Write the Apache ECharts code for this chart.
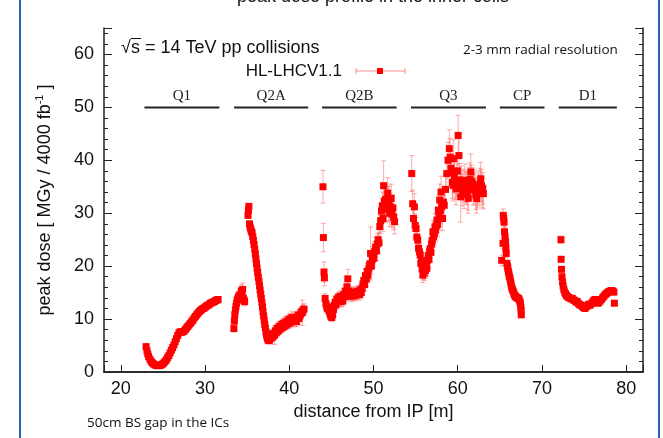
<!DOCTYPE html>
<html>
<head>
<meta charset="utf-8">
<script src="https://cdn.jsdelivr.net/npm/echarts@6/dist/echarts.min.js"></script>
<style>
  html, body { margin: 0; padding: 0; background: #fff; }
  #chart { width: 663px; height: 438px; }
</style>
</head>
<body>
<div id="chart"></div>
<script>
// peak dose along the inner triplet coils
const q1Dist = [23.0, 23.1, 23.2, 23.3, 23.45, 23.6, 23.75, 23.9, 24.05, 24.2, 24.35, 24.5, 24.65, 24.8, 24.95, 25.1, 25.25, 25.4, 25.55, 25.7, 25.85, 26.0, 26.15, 26.3, 26.45, 26.6, 26.75, 26.9, 27.05, 27.2, 27.35, 27.5, 27.65, 27.8, 27.95, 28.1, 28.25, 28.4, 28.55, 28.7, 28.85, 29.0, 29.15, 29.3, 29.45, 29.6, 29.75, 29.9, 30.05, 30.2, 30.35, 30.5, 30.65, 30.8, 30.95, 31.1, 31.25, 31.4, 31.55]
const q1Dose = [4.8, 4.0, 3.4, 2.9, 2.4, 2.0, 1.7, 1.5, 1.35, 1.25, 1.2, 1.2, 1.25, 1.35, 1.5, 1.7, 2.0, 2.3, 2.7, 3.1, 3.6, 4.1, 4.6, 5.1, 5.7, 6.3, 6.9, 7.4, 7.6, 7.5, 7.6, 7.7, 8.0, 8.3, 8.6, 8.9, 9.2, 9.5, 9.8, 10.2, 10.5, 10.8, 11.1, 11.4, 11.6, 11.8, 12.0, 12.1, 12.3, 12.5, 12.6, 12.8, 13.0, 13.1, 13.2, 13.3, 13.5, 13.6, 13.7]
const q1Err = [0.3, 0.2, 0.2, 0.2, 0.2, 0.2, 0.2, 0.2, 0.2, 0.2, 0.2, 0.2, 0.2, 0.2, 0.2, 0.2, 0.2, 0.2, 0.2, 0.2, 0.2, 0.2, 0.2, 0.3, 0.3, 0.3, 0.4, 0.5, 0.5, 0.5, 0.4, 0.3, 0.3, 0.3, 0.3, 0.3, 0.3, 0.3, 0.3, 0.3, 0.3, 0.3, 0.3, 0.3, 0.3, 0.3, 0.3, 0.3, 0.3, 0.3, 0.3, 0.3, 0.3, 0.3, 0.3, 0.3, 0.3, 0.3, 0.3]

const q2aDist = [33.42, 33.48, 33.53, 33.6, 33.67, 33.74, 33.82, 33.9, 33.98, 34.06, 34.14, 34.22, 34.3, 34.38, 34.46, 34.54, 34.62, 34.7, 35.1, 35.15, 35.2, 35.28, 35.35, 35.42, 35.5, 35.58, 35.66, 35.74, 35.82, 35.9, 35.97, 36.04, 36.11, 36.18, 36.25, 36.32, 36.4, 36.47, 36.54, 36.61, 36.68, 36.75, 36.82, 36.88, 36.95, 37.02, 37.09, 37.16, 37.23, 37.3, 37.38, 37.46, 37.55, 37.65, 37.75, 37.85, 37.95, 38.05, 38.15, 38.25, 38.35, 38.45, 38.55, 38.65, 38.75, 38.85, 38.95, 39.05, 39.15, 39.25, 39.35, 39.45, 39.55, 39.65, 39.75, 39.85, 39.95, 40.05, 40.15, 40.25, 40.35, 40.45, 40.55, 40.65, 40.75, 40.85, 40.95, 41.05, 41.15, 41.25, 41.35, 41.45, 41.55, 41.65, 41.75]
const q2aDose = [8.2, 9.6, 10.8, 11.7, 12.4, 13.0, 13.6, 13.9, 14.3, 13.8, 14.6, 14.2, 15.3, 14.6, 15.6, 14.0, 13.6, 13.3, 29.6, 30.6, 31.3, 28.0, 27.4, 27.0, 26.6, 26.3, 25.6, 24.9, 24.1, 23.2, 22.3, 21.4, 20.5, 19.6, 18.8, 17.9, 17.1, 16.3, 15.5, 14.7, 13.9, 13.1, 12.3, 11.4, 10.6, 9.8, 9.0, 8.3, 7.6, 7.0, 6.5, 6.1, 5.9, 6.0, 6.4, 6.9, 6.5, 7.3, 6.8, 7.0, 7.8, 7.4, 8.2, 7.7, 8.5, 8.0, 8.7, 8.3, 9.0, 8.5, 9.2, 8.7, 9.4, 8.9, 9.6, 9.1, 9.9, 9.3, 10.1, 9.5, 10.3, 9.7, 10.2, 9.6, 10.0, 9.5, 10.3, 10.8, 10.1, 10.6, 10.9, 11.4, 11.2, 11.7, 11.9]
const q2aErr = [0.6, 0.6, 0.6, 0.7, 0.7, 0.7, 0.8, 0.8, 0.9, 0.9, 1.0, 1.0, 1.2, 1.0, 1.2, 1.0, 0.9, 0.8, 0.5, 0.5, 0.5, 0.5, 0.5, 0.5, 0.5, 0.5, 0.4, 0.4, 0.4, 0.4, 0.4, 0.4, 0.4, 0.4, 0.4, 0.4, 0.4, 0.4, 0.4, 0.4, 0.4, 0.4, 0.4, 0.4, 0.4, 0.4, 0.4, 0.4, 0.4, 0.4, 0.4, 0.5, 0.5, 0.5, 0.6, 0.7, 0.7, 0.8, 0.9, 1.8, 0.9, 0.9, 1.0, 0.9, 1.0, 0.9, 1.0, 0.9, 1.0, 0.9, 1.0, 0.9, 1.1, 0.9, 1.0, 0.9, 1.1, 1.0, 1.0, 1.0, 1.2, 1.0, 1.0, 1.0, 1.0, 1.0, 1.0, 1.0, 1.0, 1.0, 1.0, 1.0, 2.4, 1.0, 1.0]

const q2bDist = [44.0, 44.05, 44.12, 44.17, 44.25, 44.35, 44.45, 44.55, 44.65, 44.75, 44.85, 44.95, 45.05, 45.15, 45.25, 45.35, 45.45, 45.55, 45.65, 45.75, 45.85, 45.95, 46.05, 46.15, 46.25, 46.35, 46.45, 46.55, 46.65, 46.75, 46.85, 46.95, 47.05, 47.15, 47.25, 47.35, 47.45, 47.55, 47.65, 47.75, 47.85, 47.95, 48.05, 48.15, 48.25, 48.35, 48.45, 48.55, 48.65, 48.75, 48.85, 48.95, 49.05, 49.15, 49.25, 49.35, 49.45, 49.55, 49.65, 49.75, 49.85, 49.95, 50.05, 50.15, 50.25, 50.35, 50.45, 50.55, 50.65, 50.75, 50.85, 50.95, 51.05, 51.12, 51.2, 51.28, 51.36, 51.44, 51.52, 51.6, 51.68, 51.76, 51.84, 51.92, 52.0, 52.1, 52.2, 52.3, 52.4, 52.5]
const q2bDose = [35.0, 25.4, 18.9, 17.8, 13.9, 12.9, 12.3, 11.9, 12.3, 11.4, 10.9, 10.5, 10.3, 10.8, 11.8, 12.6, 13.2, 12.7, 13.8, 13.3, 14.1, 13.6, 14.3, 13.3, 14.0, 13.4, 14.6, 14.2, 15.3, 14.6, 16.1, 17.6, 15.3, 14.7, 14.3, 14.9, 14.5, 15.1, 14.7, 14.4, 15.0, 14.6, 15.2, 14.8, 15.3, 14.6, 15.5, 15.0, 15.8, 16.6, 17.3, 16.5, 18.2, 17.6, 19.0, 18.3, 19.6, 20.4, 22.4, 20.0, 21.2, 22.0, 21.5, 22.8, 23.6, 22.9, 24.2, 25.0, 24.4, 27.5, 28.6, 30.4, 31.4, 29.0, 35.2, 32.2, 30.8, 32.6, 31.6, 32.2, 33.8, 30.9, 32.4, 30.0, 31.2, 32.8, 29.8, 31.0, 29.3, 28.4]
const q2bErr = [3.1, 2.7, 1.9, 1.5, 0.9, 0.8, 0.8, 0.8, 0.8, 0.8, 0.8, 0.8, 0.8, 0.8, 0.9, 0.9, 1.0, 0.9, 1.0, 1.0, 1.0, 1.0, 1.0, 1.0, 1.0, 1.0, 1.0, 1.0, 1.1, 1.0, 1.2, 1.8, 1.0, 1.0, 1.0, 1.0, 1.0, 1.0, 1.0, 1.0, 1.0, 1.0, 1.0, 1.0, 1.0, 1.0, 1.1, 1.0, 1.1, 1.2, 1.3, 1.2, 1.4, 1.3, 1.5, 1.4, 1.5, 1.6, 5.0, 1.5, 1.6, 1.7, 1.7, 1.8, 1.8, 1.8, 1.9, 2.0, 1.9, 2.2, 2.4, 2.5, 2.6, 2.4, 4.7, 2.8, 2.6, 2.8, 3.0, 2.8, 2.9, 2.6, 2.7, 2.5, 2.6, 2.7, 2.5, 2.5, 2.4, 2.3]

const q3Dist = [54.54, 54.65, 54.75, 54.85, 54.95, 55.05, 55.15, 55.25, 55.35, 55.45, 55.55, 55.62, 55.7, 55.78, 55.86, 55.94, 56.02, 56.1, 56.18, 56.26, 56.34, 56.42, 56.5, 56.58, 56.66, 56.74, 56.82, 56.9, 56.98, 57.06, 57.14, 57.22, 57.3, 57.38, 57.46, 57.54, 57.62, 57.7, 57.78, 57.86, 57.94, 58.02, 58.1, 58.2, 58.3, 58.4, 58.55, 58.7, 58.85, 59.0, 59.1, 59.2, 59.28, 59.36, 59.44, 59.52, 59.6, 59.7, 59.8, 59.88, 59.96, 60.05, 60.15, 60.25, 60.35, 60.45, 60.55, 60.65, 60.75, 60.85, 60.95, 61.05, 61.15, 61.25, 61.35, 61.45, 61.55, 61.65, 61.75, 61.85, 61.95, 62.05, 62.15, 62.25, 62.35, 62.45, 62.55, 62.65, 62.73, 62.82, 62.9, 62.97, 63.05]
const q3Dose = [37.5, 31.8, 29.0, 31.2, 27.7, 27.1, 25.5, 24.9, 23.4, 22.7, 22.1, 20.5, 21.0, 19.5, 18.3, 19.0, 18.7, 19.8, 19.2, 20.3, 19.6, 21.1, 22.0, 21.3, 22.8, 23.3, 22.6, 24.2, 24.9, 26.5, 25.6, 26.2, 27.4, 26.8, 27.6, 28.7, 27.9, 30.6, 29.4, 32.5, 30.5, 34.0, 31.2, 29.0, 32.1, 31.5, 34.5, 37.5, 40.0, 42.2, 40.6, 38.5, 37.8, 35.8, 35.3, 40.3, 36.9, 35.6, 34.6, 36.2, 38.0, 44.7, 40.9, 36.3, 33.1, 35.8, 34.4, 35.3, 33.8, 36.2, 35.0, 34.7, 33.5, 32.8, 35.6, 36.4, 37.8, 36.0, 35.6, 34.4, 35.3, 34.7, 33.6, 32.8, 33.9, 35.0, 34.3, 35.5, 36.5, 35.2, 33.9, 34.7, 33.7]
const q3Err = [3.4, 2.6, 2.3, 2.5, 2.2, 2.1, 2.0, 1.9, 1.8, 1.8, 1.7, 1.6, 1.6, 1.5, 1.4, 1.5, 1.4, 1.5, 1.5, 1.6, 1.5, 1.6, 1.7, 1.7, 1.8, 1.8, 1.8, 1.9, 2.0, 2.1, 2.0, 2.1, 2.6, 2.1, 2.2, 2.3, 2.2, 3.0, 2.4, 3.0, 2.4, 3.0, 2.5, 2.3, 2.5, 2.5, 2.8, 3.1, 3.4, 3.6, 3.5, 3.3, 3.2, 3.0, 3.0, 3.6, 3.1, 3.0, 3.0, 3.1, 3.3, 3.8, 3.6, 3.1, 4.8, 3.1, 3.0, 3.0, 2.9, 3.1, 3.0, 3.0, 2.9, 2.8, 3.0, 3.1, 3.4, 3.1, 3.0, 2.9, 3.0, 3.0, 2.9, 2.8, 2.9, 3.0, 2.9, 3.0, 3.1, 3.0, 2.9, 3.0, 2.9]

const cpDist = [65.22, 65.38, 65.41, 65.46, 65.5, 65.56, 65.62, 65.68, 65.72, 65.76, 65.84, 65.9, 65.95, 66.01, 66.07, 66.13, 66.2, 66.26, 66.32, 66.38, 66.44, 66.52, 66.6, 66.68, 66.76, 66.84, 66.91, 67.0, 67.08, 67.16, 67.23, 67.31, 67.39, 67.45, 67.5, 67.53, 67.55]
const cpDose = [21.1, 24.3, 29.6, 29.0, 28.3, 26.5, 25.5, 24.6, 23.4, 22.4, 20.5, 20.0, 19.6, 19.0, 18.6, 18.1, 17.7, 17.2, 16.7, 16.2, 15.8, 15.5, 15.2, 14.8, 14.5, 14.3, 14.2, 14.1, 14.0, 13.9, 13.9, 13.6, 13.3, 12.9, 12.3, 11.6, 10.8]
const cpErr = [1.0, 1.0, 1.2, 1.1, 1.0, 1.0, 0.9, 0.9, 0.8, 0.8, 0.7, 0.6, 0.6, 0.6, 0.5, 0.5, 0.5, 0.5, 0.5, 0.5, 0.5, 0.5, 0.5, 0.5, 0.5, 0.5, 0.5, 0.5, 0.5, 0.5, 0.5, 0.5, 0.5, 0.5, 0.5, 0.5, 0.5]

const d1Dist = [72.26, 72.28, 72.32, 72.38, 72.45, 72.52, 72.6, 72.7, 72.8, 72.9, 73.0, 73.15, 73.3, 73.45, 73.6, 73.75, 73.9, 74.05, 74.2, 74.35, 74.5, 74.65, 74.8, 74.95, 75.1, 75.25, 75.4, 75.55, 75.7, 75.85, 76.0, 76.15, 76.3, 76.45, 76.6, 76.75, 76.9, 77.05, 77.2, 77.35, 77.5, 77.65, 77.8, 77.95, 78.1, 78.25, 78.4, 78.55, 78.6]
const d1Dose = [25.0, 21.3, 19.4, 18.0, 17.0, 16.2, 15.6, 15.1, 14.8, 14.5, 14.3, 14.1, 14.0, 13.8, 13.9, 13.6, 13.5, 13.2, 13.3, 12.9, 12.7, 12.6, 12.4, 12.2, 12.0, 12.3, 12.5, 12.8, 12.6, 12.9, 13.2, 13.5, 13.7, 13.2, 13.0, 13.1, 13.4, 13.7, 14.0, 14.3, 14.6, 14.8, 15.0, 15.2, 15.3, 15.4, 15.3, 15.1, 13.0]
const d1Err = [0.7, 0.5, 0.5, 0.5, 0.5, 0.5, 0.5, 0.5, 0.5, 0.5, 0.5, 0.5, 0.5, 0.5, 0.5, 0.5, 0.5, 0.5, 0.5, 0.5, 0.5, 0.5, 0.7, 0.5, 0.5, 0.5, 0.5, 0.5, 0.5, 0.5, 0.5, 0.5, 0.5, 0.5, 0.5, 0.5, 0.5, 0.5, 0.5, 0.5, 0.5, 0.5, 0.5, 0.5, 0.5, 0.5, 0.5, 0.5, 0.5]

// magnet sections drawn as bars at the top
const sectionNames = ['Q1', 'Q2A', 'Q2B', 'Q3', 'CP', 'D1']
const sectionStart = [22.8, 33.45, 43.9, 54.45, 65.0, 72.0]
const sectionEnd = [31.7, 42.25, 52.75, 63.35, 70.3, 78.9]
const SECTION_LEVEL = 50

const SANS = '"Liberation Sans", Arial, sans-serif'
const SERIF = '"Liberation Serif", "Times New Roman", serif'
const AXIS_COLOR = '#222'

const segments = [
  [q1Dist, q1Dose, q1Err],
  [q2aDist, q2aDose, q2aErr],
  [q2bDist, q2bDose, q2bErr],
  [q3Dist, q3Dose, q3Err],
  [cpDist, cpDose, cpErr],
  [d1Dist, d1Dose, d1Err]
]
const points = []
const errors = []
segments.forEach(([xs, ys, es]) => {
  xs.forEach((x, i) => {
    points.push([x, ys[i]])
    errors.push([x, ys[i], es[i]])
  })
})

const chart = echarts.init(document.getElementById('chart'), null, { renderer: 'canvas' })

const option = {
  animation: false,
  grid: { left: 104, right: 20, top: 28, bottom: 66, containLabel: false },
  xAxis: [
    {
      type: 'value',
      min: 18,
      max: 82,
      splitNumber: 6,
      name: 'distance from IP [m]',
      nameLocation: 'middle',
      nameGap: 31,
      nameTextStyle: { fontFamily: SANS, fontSize: 18, color: '#111' },
      axisLine: { lineStyle: { color: AXIS_COLOR, width: 1.5 } },
      axisTick: { inside: true, length: 7, lineStyle: { color: AXIS_COLOR } },
      axisLabel: {
        margin: 8,
        fontFamily: SANS,
        fontSize: 18,
        color: '#111',
        formatter: v => (v % 10 === 0 ? String(v) : '')
      },
      splitLine: { show: false }
    },
    {
      type: 'value',
      position: 'top',
      min: 18,
      max: 82,
      axisLine: { show: true, lineStyle: { color: AXIS_COLOR, width: 1.5 } },
      axisTick: { show: false },
      axisLabel: { show: false },
      splitLine: { show: false }
    }
  ],
  yAxis: [
    {
      type: 'value',
      min: 0,
      max: 65,
      interval: 10,
      name: '{a|peak dose [ MGy / 4000 fb}{b|-1}{a| ]}',
      nameLocation: 'middle',
      nameGap: 48,
      nameTextStyle: {
        rich: {
          a: { fontFamily: SANS, fontSize: 18, color: '#111', lineHeight: 22 },
          b: { fontFamily: SANS, fontSize: 11, color: '#111', lineHeight: 22, verticalAlign: 'top' }
        }
      },
      axisLine: { lineStyle: { color: AXIS_COLOR, width: 1.5 } },
      axisTick: { inside: true, length: 8, lineStyle: { color: AXIS_COLOR } },
      minorTick: { show: true, splitNumber: 5, length: 4, lineStyle: { color: AXIS_COLOR } },
      axisLabel: {
        margin: 10,
        fontFamily: SANS,
        fontSize: 18,
        color: '#111',
        formatter: v => (v <= 60 ? String(v) : '')
      },
      splitLine: { show: false }
    },
    {
      type: 'value',
      position: 'right',
      min: 0,
      max: 65,
      interval: 10,
      axisLine: { show: true, lineStyle: { color: AXIS_COLOR, width: 1.5 } },
      axisTick: { inside: true, length: 8, lineStyle: { color: AXIS_COLOR } },
      minorTick: { show: true, splitNumber: 5, length: 4, lineStyle: { color: AXIS_COLOR } },
      axisLabel: { show: false },
      splitLine: { show: false }
    }
  ],
  series: [
    {
      name: 'sections',
      type: 'custom',
      silent: true,
      data: sectionNames.map((n, i) => [sectionStart[i], sectionEnd[i], SECTION_LEVEL]),
      encode: { x: [0, 1], y: 2 },
      renderItem: (params, api) => {
        const p1 = api.coord([api.value(0), api.value(2)])
        const p2 = api.coord([api.value(1), api.value(2)])
        return {
          type: 'group',
          children: [
            {
              type: 'line',
              shape: { x1: p1[0], y1: p1[1], x2: p2[0], y2: p2[1] },
              style: { stroke: '#222', lineWidth: 2 }
            },
            {
              type: 'text',
              x: (p1[0] + p2[0]) / 2,
              y: p1[1] - 4,
              style: {
                text: sectionNames[params.dataIndex],
                fontFamily: SERIF,
                fontSize: 15,
                fill: '#222',
                align: 'center',
                verticalAlign: 'bottom'
              }
            }
          ]
        }
      },
      z: 1
    },
    {
      name: 'errors',
      type: 'custom',
      silent: true,
      data: errors,
      encode: { x: 0, y: 1 },
      renderItem: (params, api) => {
        const x = api.value(0)
        const y = api.value(1)
        const e = api.value(2)
        const top = api.coord([x, y + e])
        const bot = api.coord([x, y - e])
        const hw = 2.5
        const st = { stroke: 'rgba(255, 70, 70, 0.45)', lineWidth: 1 }
        return {
          type: 'group',
          children: [
            { type: 'line', shape: { x1: top[0], y1: top[1], x2: bot[0], y2: bot[1] }, style: st },
            { type: 'line', shape: { x1: top[0] - hw, y1: top[1], x2: top[0] + hw, y2: top[1] }, style: st },
            { type: 'line', shape: { x1: bot[0] - hw, y1: bot[1], x2: bot[0] + hw, y2: bot[1] }, style: st }
          ]
        }
      },
      z: 2
    },
    {
      name: 'HL-LHCV1.1',
      type: 'scatter',
      symbol: 'rect',
      symbolSize: 7,
      itemStyle: { color: '#ff0000', opacity: 1 },
      data: points,
      z: 3
    }
  ],
  graphic: [
    // slide border
    { type: 'rect', left: 19, top: 0, shape: { width: 2, height: 438 }, style: { fill: '#2462b4' }, z: 100 },
    { type: 'rect', left: 658, top: 0, shape: { width: 2, height: 438 }, style: { fill: '#2462b4' }, z: 100 },
    // title, cut by the page edge
    {
      type: 'text', x: 373, y: -12,
      style: { text: 'peak dose profile in the inner coils', fontFamily: SANS, fontSize: 18, fill: '#111', align: 'center', verticalAlign: 'top' }
    },
    {
      type: 'text', x: 121, y: 48,
      style: { text: '√s = 14 TeV pp collisions', fontFamily: SANS, fontSize: 18, fill: '#111', align: 'left', verticalAlign: 'middle' }
    },
    { type: 'line', shape: { x1: 131, y1: 38.5, x2: 141, y2: 38.5 }, style: { stroke: '#111', lineWidth: 1 } },
    {
      type: 'text', x: 342, y: 71,
      style: { text: 'HL-LHCV1.1', fontFamily: SANS, fontSize: 17, fill: '#111', align: 'right', verticalAlign: 'middle' }
    },
    { type: 'line', shape: { x1: 356, y1: 71, x2: 405, y2: 71 }, style: { stroke: 'rgba(255, 70, 70, 0.6)', lineWidth: 1 } },
    { type: 'line', shape: { x1: 356, y1: 68, x2: 356, y2: 74 }, style: { stroke: 'rgba(255, 70, 70, 0.6)', lineWidth: 1 } },
    { type: 'line', shape: { x1: 405, y1: 68, x2: 405, y2: 74 }, style: { stroke: 'rgba(255, 70, 70, 0.6)', lineWidth: 1 } },
    { type: 'rect', shape: { x: 377, y: 68, width: 6, height: 6 }, style: { fill: '#ff0000' } },
    {
      type: 'text', x: 463, y: 50,
      style: { text: '2-3 mm radial resolution', fontFamily: '"Open Sans", sans-serif', fontSize: 13.5, fill: '#111', align: 'left', verticalAlign: 'middle' }
    },
    {
      type: 'text', x: 87, y: 423,
      style: { text: '50cm BS gap in the ICs', fontFamily: '"Open Sans", sans-serif', fontSize: 13.5, fill: '#111', align: 'left', verticalAlign: 'middle' }
    }
  ]
}

chart.setOption(option)
window.addEventListener('resize', () => chart.resize())
</script>
</body>
</html>
